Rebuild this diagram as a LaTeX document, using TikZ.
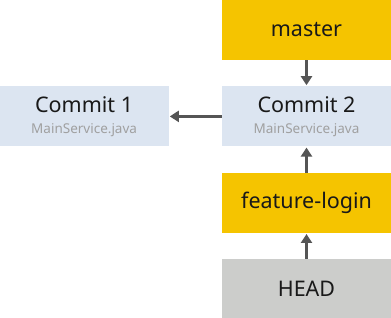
\documentclass[tikz,border=0pt]{standalone}
\usepackage{fontspec}
\setmainfont{Noto Sans}
\usetikzlibrary{arrows.meta,positioning}
\definecolor{branchyellow}{HTML}{F5C400}
\definecolor{commitblue}{HTML}{DCE5F1}
\definecolor{headgray}{HTML}{CCCDCB}
\definecolor{filegray}{HTML}{A0A0A0}
\definecolor{arrowgray}{HTML}{555555}
\tikzset{
  box/.style={rectangle, minimum width=169pt, minimum height=60pt, align=center, font=\fontsize{21.5}{23}\selectfont, inner sep=0pt, text=black!90},
  branch/.style={box, fill=branchyellow},
  commit/.style={box, fill=commitblue},
  head/.style={box, fill=headgray},
  arr/.style={-{Triangle[length=9pt,width=11pt]}, line width=3.2pt, draw=arrowgray, shorten >=1pt}
}
\newcommand{\filename}[1]{{\fontsize{13.5}{14}\selectfont\color{filegray}#1}}
\begin{document}
\begin{tikzpicture}[x=1pt,y=1pt]
\useasboundingbox (0,0) rectangle (391,318);
\node[branch] (master) at (306.5,288) {master};
\node[commit, below=26pt of master] (c2) {Commit 2\\[-2pt]\filename{MainService.java}};
\node[commit, left=53pt of c2] (c1) {Commit 1\\[-2pt]\filename{MainService.java}};
\node[branch, below=26pt of c2] (login) {feature-login};
\node[head, below=26pt of login] (head) {HEAD};

\draw[arr] (master) -- (c2); \draw[arr] (c2) -- (c1);
\draw[arr] (login) -- (c2); \draw[arr] (head) -- (login);
\end{tikzpicture}
\end{document}
